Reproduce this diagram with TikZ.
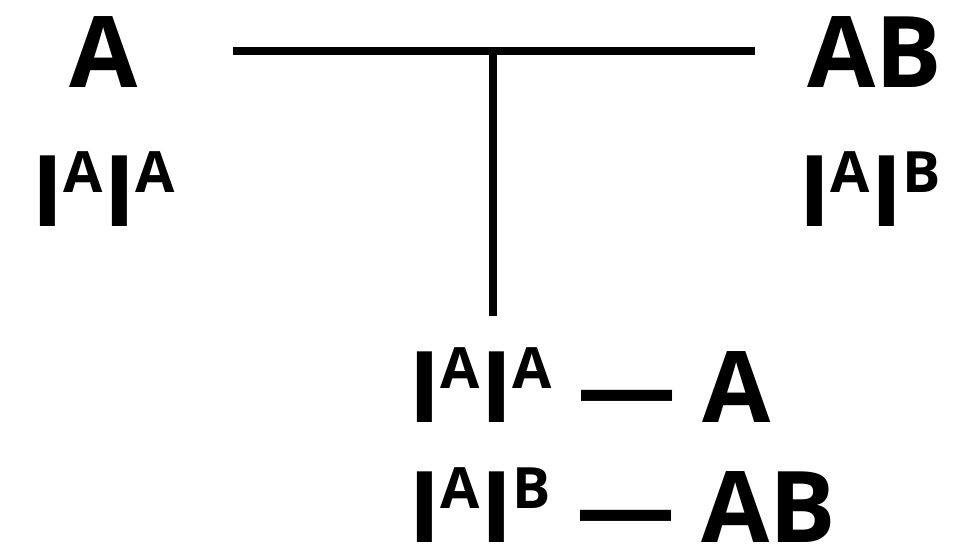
\documentclass[tikz,border=0pt]{standalone}
\usepackage{fontspec}
\setmainfont{Open Sans}[BoldFont={* Bold}]
\newcommand\supl[1]{\raisebox{34pt}{\fontsize{57}{60}\selectfont #1}}
\begin{document}
\begin{tikzpicture}[x=1pt,y=1pt,
  lbl/.style={anchor=base west,inner sep=0pt,outer sep=0pt,font=\fontsize{99}{110}\selectfont\bfseries},
  bar/.style={line width=7.5pt}]
\useasboundingbox (0,0) rectangle (958,556);
\node[lbl] (a) at (69,468) {A};
\node[lbl] (ab) at (807,468) {AB};
\node[lbl] (ia) at (31,329) {I\supl{A}I\supl{A}};
\node[lbl] (ib) at (798,329) {I\supl{A}I\supl{B}};
\node[lbl] (r1) at (408,133) {I\supl{A}I\supl{A} — A};
\node[lbl] (r2) at (408,13) {I\supl{A}I\supl{B} — AB};
\coordinate (hl) at (233,505);
\coordinate (hr) at (755,505);
\coordinate (vt) at (493,505);
\coordinate (vb) at (493,240);
\draw[bar] (hl) -- (hr);
\draw[bar] (vt) -- (vb);
\end{tikzpicture}
\end{document}
